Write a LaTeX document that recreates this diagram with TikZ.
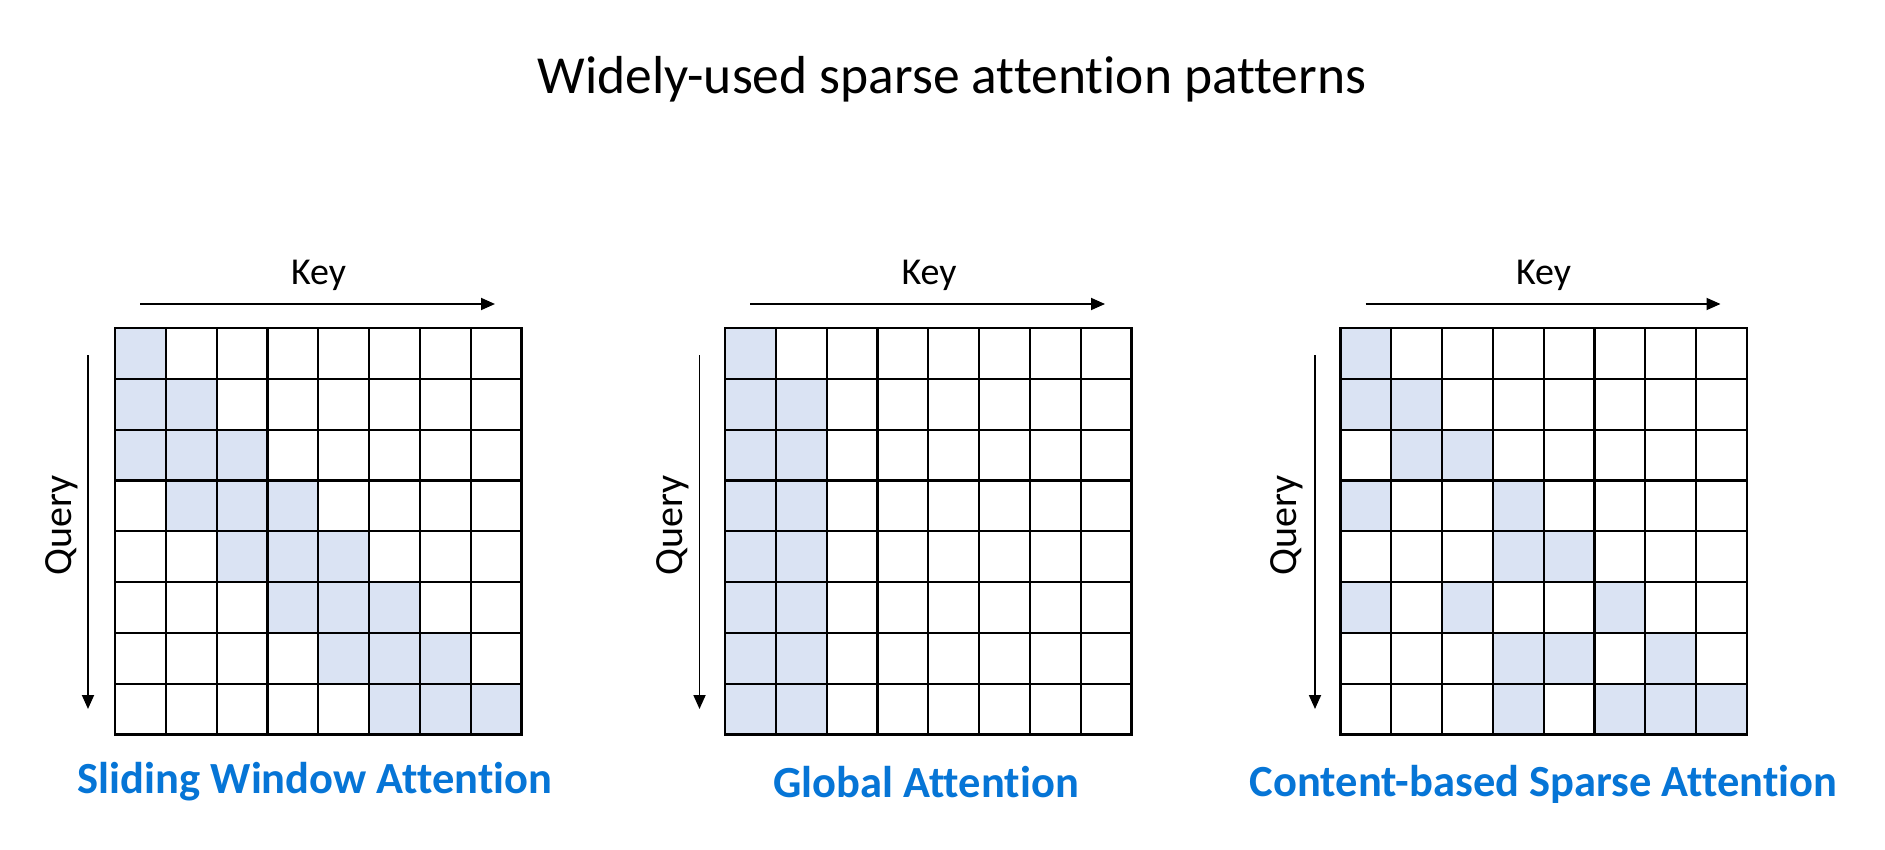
\documentclass[tikz,border=0pt]{standalone}
\usepackage{fontspec}
\setmainfont{Carlito}[Ligatures=NoCommon]
\usetikzlibrary{arrows.meta}
\definecolor{cellblue}{HTML}{DAE3F3}
\definecolor{capblue}{HTML}{0675D6}
\begin{document}
\begin{tikzpicture}[x=1pt, y=-1pt,
	gridline/.style={line width=2.2pt, line cap=rect},
	axisarrow/.style={line width=1.8pt, -{Triangle[length=14pt, width=12pt]}},
	keylabel/.style={font=\fontsize{38}{42}\selectfont},
	querylabel/.style={font=\fontsize{40}{44}\selectfont, rotate=90},
	caption/.style={font=\fontsize{44.5}{50}\selectfont\bfseries, text=capblue}]
	\useasboundingbox (0,0) rectangle (1885,850);
	
	% Kich thuoc o
	\pgfmathsetmacro{\cs}{50.8}
	
	% Tieu de
	\node[font=\fontsize{53.5}{58}\selectfont] (title) at (952,79) {Widely-used sparse attention patterns};
	
	% Sliding window
	\begin{scope}[shift={(115,328)}]
		\foreach \r/\c in {0/0,1/0,1/1,2/0,2/1,2/2,3/1,3/2,3/3,4/2,4/3,4/4,5/3,5/4,5/5,6/4,6/5,6/6,7/5,7/6,7/7}
			\fill[cellblue] (\c*\cs,\r*\cs) rectangle ++(\cs,\cs);
		\foreach \i in {0,...,8} {
			\draw[gridline] (\i*\cs,0) -- (\i*\cs,8*\cs);
			\draw[gridline] (0,\i*\cs) -- (8*\cs,\i*\cs);
		}
		\coordinate (keyAs) at (25,-24);
		\coordinate (keyAe) at (380,-24);
		\coordinate (qryAs) at (-27,27);
		\coordinate (qryAe) at (-27,381);
		\draw[axisarrow] (keyAs) -- (keyAe);
		\draw[axisarrow] (qryAs) -- (qryAe);
		\node[keylabel] (keyA) at (203.5,-53) {Key};
		\node[querylabel] (qryA) at (-53,197) {Query};
		\node[caption] (capA) at (200,454) {Sliding Window Attention};
	\end{scope}
	
	% Global
	\begin{scope}[shift={(725,328)}]
		\foreach \r/\c in {0/0,1/0,1/1,2/0,2/1,3/0,3/1,4/0,4/1,5/0,5/1,6/0,6/1,7/0,7/1}
			\fill[cellblue] (\c*\cs,\r*\cs) rectangle ++(\cs,\cs);
		\foreach \i in {0,...,8} {
			\draw[gridline] (\i*\cs,0) -- (\i*\cs,8*\cs);
			\draw[gridline] (0,\i*\cs) -- (8*\cs,\i*\cs);
		}
		\coordinate (keyBs) at (25,-24);
		\coordinate (keyBe) at (380,-24);
		\coordinate (qryBs) at (-25.5,27);
		\coordinate (qryBe) at (-25.5,381);
		\draw[axisarrow] (keyBs) -- (keyBe);
		\draw[axisarrow] (qryBs) -- (qryBe);
		\node[keylabel] (keyB) at (204,-53) {Key};
		\node[querylabel] (qryB) at (-52,197) {Query};
		\node[caption] (capB) at (201,454) {Global Attention};
	\end{scope}
	
	% Content-based
	\begin{scope}[shift={(1340.5,328)}]
		\foreach \r/\c in {0/0,1/0,1/1,2/1,2/2,3/0,3/3,4/3,4/4,5/0,5/2,5/5,6/3,6/4,6/6,7/3,7/5,7/6,7/7}
			\fill[cellblue] (\c*\cs,\r*\cs) rectangle ++(\cs,\cs);
		\foreach \i in {0,...,8} {
			\draw[gridline] (\i*\cs,0) -- (\i*\cs,8*\cs);
			\draw[gridline] (0,\i*\cs) -- (8*\cs,\i*\cs);
		}
		\coordinate (keyCs) at (25,-24);
		\coordinate (keyCe) at (380,-24);
		\coordinate (qryCs) at (-25.5,27);
		\coordinate (qryCe) at (-25.5,381);
		\draw[axisarrow] (keyCs) -- (keyCe);
		\draw[axisarrow] (qryCs) -- (qryCe);
		\node[keylabel] (keyC) at (203,-53) {Key};
		\node[querylabel] (qryC) at (-54,197) {Query};
		\node[caption] (capC) at (203,456) {Content-based Sparse Attention};
	\end{scope}
\end{tikzpicture}
\end{document}
